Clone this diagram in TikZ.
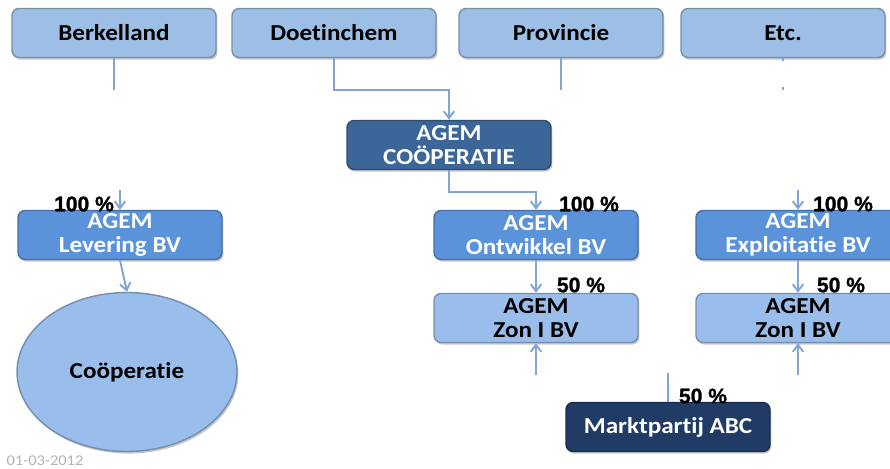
\documentclass[tikz,border=0pt]{standalone}
\usepackage{fontspec}
\setmainfont{Carlito}[FakeStretch=1.1,Ligatures=NoCommon]
\newfontfamily\pctfont{Liberation Sans}[FakeBold=1.2]
\usetikzlibrary{shapes.geometric,shadows,arrows.meta}
\definecolor{lichtblauw}{HTML}{9DBFE6}
\definecolor{zonblauw}{HTML}{99BEEC}
\definecolor{middenblauw}{HTML}{5B93DB}
\definecolor{coopblauw}{HTML}{3C6598}
\definecolor{marineblauw}{HTML}{1F3B66}
\definecolor{lijnblauw}{HTML}{7FA6D6}
\begin{document}
\begin{tikzpicture}[x=0.02cm,y=-0.02cm,
    doos/.style={rectangle,rounded corners=4pt,fill=#1,draw=#1!75!black,line width=0.8pt,
      minimum width=4.08cm,minimum height=0.98cm,inner sep=1pt,align=center,
      font=\bfseries\fontsize{13}{13.6}\selectfont,
      drop shadow={shadow xshift=0.8pt,shadow yshift=-1.2pt,opacity=0.45}},
    lijn/.style={draw=lijnblauw,line width=1.1pt},
    pijl/.style={lijn,-{Straight Barb[length=4pt,width=6pt]}},
    pct/.style={inner sep=0pt,font=\pctfont\bfseries\fontsize{12}{12}\selectfont}]
  \useasboundingbox (0,0) rectangle (890,469);
  % bovenste rij
  \node[doos=lichtblauw] (berk) at (114,33) {Berkelland};
  \node[doos=lichtblauw] (doet) at (334,33) {Doetinchem};
  \node[doos=lichtblauw] (prov) at (561,33) {Provincie};
  \node[doos=lichtblauw] (etc) at (783,33) {Etc.};
  % cooperatie en dochters
  \node[doos=coopblauw,text=white] (coop) at (449,145) {AGEM\\COÖPERATIE};
  \node[doos=middenblauw,text=white] (lev) at (120,235) {AGEM\\Levering BV};
  \node[doos=middenblauw,text=white] (ontw) at (536,235) {AGEM\\Ontwikkel BV};
  \node[doos=middenblauw,text=white] (expl) at (798,235) {AGEM\\Exploitatie BV};
  \node[doos=zonblauw] (zon1) at (536,318) {AGEM\\Zon I BV};
  \node[doos=zonblauw] (zon2) at (798,318) {AGEM\\Zon I BV};
  \node[doos=marineblauw,text=white] (markt) at (668,427) {Marktpartij ABC};
  \node[doos=zonblauw,ellipse,minimum width=4.4cm,minimum height=3.18cm,
    font=\bfseries\fontsize{13}{14}\selectfont] (ledencoop) at (127,372) {Coöperatie};
  % losse eindpunten
  \coordinate (berk uit) at (114,90);
  \coordinate (prov uit) at (561,90);
  \coordinate (etc uit) at (783,90);
  \coordinate (knik1) at (449,90);
  \coordinate (knik2) at (536,192);
  \coordinate (lev in) at (120,190);
  \coordinate (expl in) at (798,190);
  \coordinate (zon1 in) at (536,375);
  \coordinate (zon2 in) at (798,375);
  \coordinate (markt uit) at (668,373);
  % lijnen
  \draw[lijn] (berk.south) -- (berk uit);
  \draw[lijn] (prov.south) -- (prov uit);
  \draw[lijn,dash pattern=on 1.5pt off 15pt] (etc.south) -- (etc uit);
  \draw[pijl] (doet.south) |- (knik1) -- (coop.north);
  \draw[pijl] (coop.south) |- (knik2) -- (ontw.north);
  \draw[pijl] (lev in) -- (lev.north);
  \draw[pijl] (lev.south) -- (ledencoop.north);
  \draw[pijl] (expl in) -- (expl.north);
  \draw[pijl] (ontw.south) -- (zon1.north);
  \draw[pijl] (expl.south) -- (zon2.north);
  \draw[pijl] (zon1 in) -- (zon1.south);
  \draw[pijl] (zon2 in) -- (zon2.south);
  \draw[lijn] (markt uit) -- (markt.north);
  % percentages
  \node[pct] (p1) at (84,204) {100 \%};
  \node[pct] (p2) at (589,204) {100 \%};
  \node[pct] (p3) at (843,204) {100 \%};
  \node[pct] (p4) at (581,285) {50 \%};
  \node[pct] (p5) at (841,285) {50 \%};
  \node[pct] (p6) at (703,396) {50 \%};
  \node[inner sep=0pt,text=gray!60,font=\fontsize{8.5}{8.5}\selectfont] (datum) at (45,461) {01-03-2012};
\end{tikzpicture}
\end{document}
